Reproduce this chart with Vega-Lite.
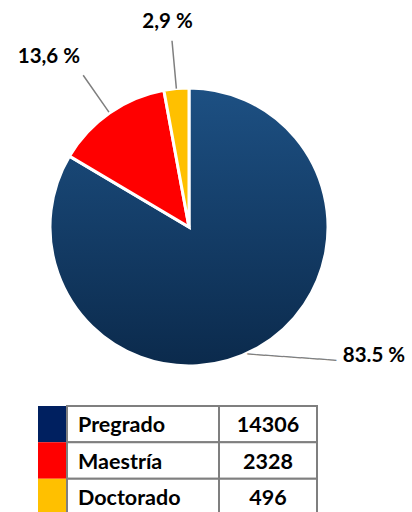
{
  "$schema": "https://vega.github.io/schema/vega-lite/v6.json",
  "padding": 0,
  "background": "white",
  "config": {"view": {"stroke": null}, "font": "Lato", "concat": {"spacing": 0}},
  "datasets": {
    "niveles": [
      {"nivel": "Pregrado", "estudiantes": 14306, "etiqueta": "83.5 %"},
      {"nivel": "Maestría", "estudiantes": 2328, "etiqueta": "13,6 %"},
      {"nivel": "Doctorado", "estudiantes": 496, "etiqueta": "2,9 %"}
    ]
  },
  "spacing": 0,
  "bounds": "flush",
  "vconcat": [
    {
      "width": 378,
      "height": 48,
      "data": {"values": []},
      "mark": {"type": "point"}
    },
    {
      "width": 378,
      "height": 358,
      "data": {"name": "niveles"},
      "transform": [
        {"stack": "estudiantes", "groupby": [], "sort": [{"field": "estudiantes", "order": "descending"}], "as": ["s0", "s1"]},
        {"calculate": "(datum.s0 + datum.s1) / 2", "as": "mid"}
      ],
      "layer": [
        {
          "mark": {"type": "arc", "radius": 139, "stroke": "white", "strokeWidth": 3},
          "encoding": {
            "theta": {"field": "s1", "type": "quantitative", "stack": null, "scale": {"zero": true, "nice": false, "range": [0, 6.283185307179586]}},
            "theta2": {"field": "s0"},
            "color": {
              "condition": {
                "test": "datum.nivel === 'Pregrado'",
                "value": {"gradient": "linear", "x1": 0, "y1": 0, "x2": 0, "y2": 1,
                  "stops": [{"offset": 0, "color": "#1D5083"}, {"offset": 1, "color": "#0B2A4C"}]}
              },
              "field": "nivel",
              "type": "nominal",
              "scale": {"domain": ["Pregrado", "Maestría", "Doctorado"], "range": ["#143D68", "#FF0000", "#FFC000"]},
              "legend": null
            }
          }
        },
        {
          "transform": [{"filter": "datum.nivel === 'Doctorado'"}],
          "mark": {"type": "arc", "radius": 187, "radius2": 139, "filled": false, "color": "#7F7F7F", "strokeWidth": 1.5},
          "encoding": {
            "theta": {"field": "mid", "type": "quantitative", "stack": null},
            "theta2": {"field": "mid"}
          }
        },
        {
          "transform": [{"filter": "datum.nivel === 'Maestría'"}],
          "mark": {"type": "arc", "radius": 185, "radius2": 140, "filled": false, "color": "#7F7F7F", "strokeWidth": 1.5},
          "encoding": {
            "theta": {"field": "mid", "type": "quantitative", "stack": null},
            "theta2": {"field": "mid"}
          }
        },
        {
          "transform": [{"filter": "datum.nivel === 'Pregrado'"}],
          "mark": {"type": "text", "radius": 139, "align": "left", "baseline": "middle", "dx": -10, "dy": 8, "angle": 4, "fontSize": 14.8, "font": "DejaVu Sans", "color": "#808080"},
          "encoding": {
            "theta": {"field": "mid", "type": "quantitative", "stack": null},
            "text": {"value": "──────────"}
          }
        },
        {
          "transform": [{"filter": "datum.nivel === 'Doctorado'"}],
          "mark": {"type": "text", "radius": 187, "align": "center", "baseline": "middle", "dx": -4.5, "dy": -18.8, "fontSize": 20.5, "fontWeight": "bold", "font": "Lato", "color": "black"},
          "encoding": {
            "theta": {"field": "mid", "type": "quantitative", "stack": null},
            "text": {"field": "etiqueta"}
          }
        },
        {
          "transform": [{"filter": "datum.nivel === 'Maestría'"}],
          "mark": {"type": "text", "radius": 187, "align": "right", "baseline": "middle", "dx": -2, "dy": -16.7, "fontSize": 20.5, "fontWeight": "bold", "font": "Lato", "color": "black"},
          "encoding": {
            "theta": {"field": "mid", "type": "quantitative", "stack": null},
            "text": {"field": "etiqueta"}
          }
        },
        {
          "transform": [{"filter": "datum.nivel === 'Pregrado'"}],
          "mark": {"type": "text", "radius": 139, "align": "left", "baseline": "middle", "dx": 85, "dy": 8.3, "fontSize": 20.5, "fontWeight": "bold", "font": "Lato", "color": "black"},
          "encoding": {
            "theta": {"field": "mid", "type": "quantitative", "stack": null},
            "text": {"field": "etiqueta"}
          }
        }
      ]
    },
    {
      "spacing": 0,
      "bounds": "flush",
      "hconcat": [
        {
          "width": 38,
          "height": 109,
          "data": {"values": []},
          "mark": {"type": "point"}
        },
        {
          "width": 29,
          "height": 109,
          "data": {"name": "niveles"},
          "mark": {"type": "rect"},
          "encoding": {
            "y": {"field": "nivel", "type": "nominal", "sort": ["Pregrado", "Maestría", "Doctorado"], "axis": null, "scale": {"paddingInner": 0, "paddingOuter": 0}},
            "x": {"value": 0},
            "x2": {"value": "width"},
            "fill": {"field": "nivel", "type": "nominal", "scale": {"domain": ["Pregrado", "Maestría", "Doctorado"], "range": ["#002060", "#FF0000", "#FFC000"]}, "legend": null}
          }
        },
        {
          "width": 152,
          "height": 109,
          "data": {"name": "niveles"},
          "encoding": {
            "y": {"field": "nivel", "type": "nominal", "sort": ["Pregrado", "Maestría", "Doctorado"], "axis": null, "scale": {"paddingInner": 0, "paddingOuter": 0}}
          },
          "layer": [
            {
              "mark": {"type": "rect", "fill": "white", "stroke": "#7F7F7F", "strokeWidth": 2},
              "encoding": {"x": {"value": 0}, "x2": {"value": "width"}}
            },
            {
              "mark": {"type": "text", "align": "left", "baseline": "middle", "dx": 11, "dy": 2, "fontSize": 21.5, "fontWeight": "bold", "font": "Lato", "color": "black"},
              "encoding": {"x": {"value": 0}, "text": {"field": "nivel"}}
            }
          ]
        },
        {
          "width": 98,
          "height": 109,
          "data": {"name": "niveles"},
          "encoding": {
            "y": {"field": "nivel", "type": "nominal", "sort": ["Pregrado", "Maestría", "Doctorado"], "axis": null, "scale": {"paddingInner": 0, "paddingOuter": 0}}
          },
          "layer": [
            {
              "mark": {"type": "rect", "fill": "white", "stroke": "#7F7F7F", "strokeWidth": 2},
              "encoding": {"x": {"value": 0}, "x2": {"value": "width"}}
            },
            {
              "mark": {"type": "text", "align": "center", "baseline": "middle", "dy": 2, "fontSize": 21.5, "fontWeight": "bold", "font": "Lato", "color": "black"},
              "encoding": {
                "x": {"datum": "valor", "type": "nominal", "axis": null, "scale": {"paddingInner": 0, "paddingOuter": 0}},
                "text": {"field": "estudiantes", "type": "quantitative", "format": "d"}
              }
            }
          ]
        }
      ]
    }
  ]
}
